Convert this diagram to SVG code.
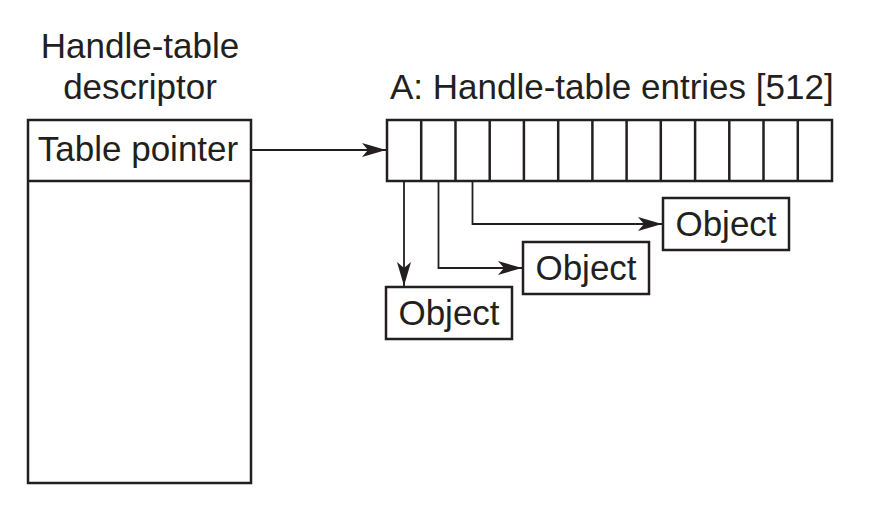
<svg xmlns="http://www.w3.org/2000/svg" width="878" height="523" viewBox="0 0 878 523">
<defs>
<style>
.box{fill:#fff;stroke:#231f20;stroke-width:2.5}
.ln{fill:none;stroke:#231f20;stroke-width:1.8}
.t{font-family:"Liberation Sans",Arial,sans-serif;font-size:35px;fill:#231f20}
</style>
<marker id="ah" viewBox="0 0 24 14" refX="24" refY="7" markerWidth="24" markerHeight="14" markerUnits="userSpaceOnUse" orient="auto">
<path d="M0,0 L24,7 L0,14 L6,7 Z" fill="#231f20"/>
</marker>
</defs>
<rect width="878" height="523" fill="#fff"/>
<g id="descriptor">
<text class="t" x="140" y="58" text-anchor="middle">Handle-table</text>
<text class="t" x="140" y="99" text-anchor="middle">descriptor</text>
<rect class="box" x="28" y="120" width="223" height="363"/>
<line class="box" x1="28" y1="181" x2="251" y2="181"/>
<text class="t" x="138" y="161" text-anchor="middle">Table pointer</text>
</g>
<g id="table">
<text class="t" x="390" y="99">A: Handle-table entries [512]</text>
<rect class="box" x="387" y="120" width="445" height="61"/>
<path class="box" d="M421.2,120V181M455.5,120V181M489.7,120V181M523.9,120V181M558.2,120V181M592.4,120V181M626.6,120V181M660.8,120V181M695.1,120V181M729.3,120V181M763.5,120V181M797.8,120V181"/>
</g>
<g id="obj1">
<rect class="box" x="663" y="198" width="126" height="52"/>
<text class="t" x="726" y="236" text-anchor="middle">Object</text>
</g>
<g id="obj2">
<rect class="box" x="523" y="242" width="126" height="52"/>
<text class="t" x="586" y="280" text-anchor="middle">Object</text>
</g>
<g id="obj3">
<rect class="box" x="386" y="287" width="126" height="52"/>
<text class="t" x="449" y="325" text-anchor="middle">Object</text>
</g>
<g id="connectors">
<path class="ln" d="M251,150H386" marker-end="url(#ah)"/>
<path class="ln" d="M472.5,181V224H662" marker-end="url(#ah)"/>
<path class="ln" d="M438.5,181V268H522" marker-end="url(#ah)"/>
<path class="ln" d="M404,181V286" marker-end="url(#ah)"/>
</g>
</svg>
